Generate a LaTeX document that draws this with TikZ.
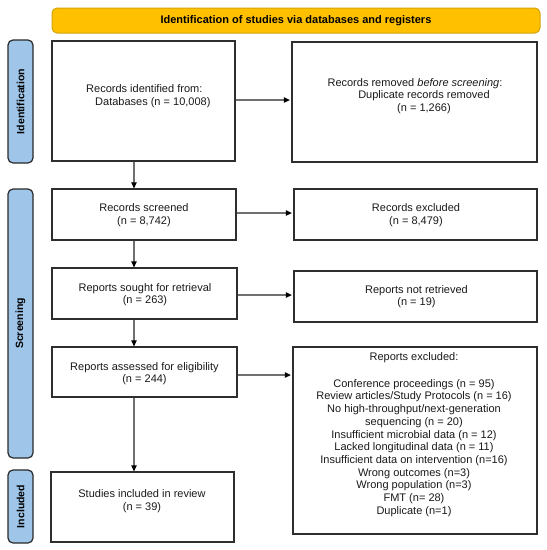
\documentclass[tikz,border=0pt]{standalone}
\usepackage{fontspec}
\setmainfont{Liberation Sans}
\usetikzlibrary{arrows.meta}
\definecolor{bannerfill}{HTML}{FFC000}
\definecolor{bannerdraw}{HTML}{D4A20A}
\definecolor{sidefill}{HTML}{9FC5E8}
\definecolor{sidedraw}{HTML}{2A2A2A}
\definecolor{boxdraw}{HTML}{2E2E2E}
\definecolor{arrowgray}{HTML}{707070}
\tikzset{
  box/.style={draw=boxdraw, line width=1.3pt, rectangle, inner sep=0pt},
  txt/.style={font=\fontsize{11}{12.7}\selectfont, align=center, inner sep=0pt, text=black!90},
  banner/.style={draw=bannerdraw, fill=bannerfill, line width=1pt, rounded corners=5pt, inner sep=0pt,
     font=\bfseries\fontsize{11}{13}\selectfont},
  side/.style={draw=sidedraw, fill=sidefill, line width=1.2pt, rounded corners=5pt, inner sep=0pt,
     rotate=90, font=\bfseries\fontsize{10.5}{12}\selectfont},
  flow/.style={draw=arrowgray, line width=1.2pt, -{Triangle[length=6pt,width=5.5pt,black]}},
}
\begin{document}
\begin{tikzpicture}[x=1pt,y=-1pt]
\useasboundingbox (0,0) rectangle (547,550);
% banner
\node[banner, minimum width=488pt, minimum height=25pt] (ban) at (296,20.5) {Identification of studies via databases and registers};
% side labels
\node[side, minimum width=123pt, minimum height=25pt] (L1) at (20.5,101.5) {Identification};
\node[side, minimum width=269pt, minimum height=25pt] (L2) at (20.5,323.5) {Screening};
\node[side, minimum width=73pt, minimum height=25pt] (L3) at (20.5,506.5) {Included};
% boxes
\node[box, minimum width=183pt, minimum height=120pt] (b1) at (143.5,101) {};
\node[box, minimum width=245pt, minimum height=120pt] (b2) at (414.5,102) {};
\node[box, minimum width=184pt, minimum height=51pt] (b3) at (144,214.5) {};
\node[box, minimum width=243pt, minimum height=51pt] (b4) at (415.5,214.5) {};
\node[box, minimum width=185pt, minimum height=51pt] (b5) at (144.5,293.5) {};
\node[box, minimum width=243pt, minimum height=51pt] (b6) at (415.5,296.5) {};
\node[box, minimum width=185pt, minimum height=50pt] (b7) at (144.5,372) {};
\node[box, minimum width=244pt, minimum height=187pt] (b8) at (415,440.5) {};
\node[box, minimum width=183pt, minimum height=70pt] (b9) at (142.5,507) {};
% texts
\node[txt, anchor=west, align=left] (t1) at (86,96) {Records identified from:\\\hspace*{9pt}Databases (n = 10,008)};
\node[txt] (t2) at (415,96) {Records removed \textit{before screening}:\\\hspace*{18pt}Duplicate records removed\\\hspace*{18pt}(n = 1,266)};
\node[txt] (t3) at (144,215) {Records screened\\(n = 8,742)};
\node[txt] (t4) at (416,215) {Records excluded\\(n = 8,479)};
\node[txt] (t5) at (145,294.5) {Reports sought for retrieval\\(n = 263)};
\node[txt] (t6) at (416.5,296.5) {Reports not retrieved\\(n = 19)};
\node[txt] (t7) at (144.5,373.5) {Reports assessed for eligibility\\(n = 244)};
\node[txt] (t8) at (414,434.5) {Reports excluded:\\[14pt]Conference proceedings (n = 95)\\Review articles/Study Protocols (n = 16)\\No high-throughput/next-generation\\sequencing (n = 20)\\Insufficient microbial data (n = 12)\\Lacked longitudinal data (n = 11)\\Insufficient data on intervention (n=16)\\Wrong outcomes (n=3)\\Wrong population (n=3)\\FMT (n= 28)\\Duplicate (n=1)};
\node[txt] (t9) at (142,501) {Studies included in review\\(n = 39)};
% vertical arrow axis
\coordinate (ax) at (134,0);
\draw[flow] (b1.south -| ax) -- (b3.north -| ax);
\draw[flow] (b3.south -| ax) -- (b5.north -| ax);
\draw[flow] (b5.south -| ax) -- (b7.north -| ax);
\draw[flow] (b7.south -| ax) -- (b9.north -| ax);
% horizontal arrows
\coordinate (h1) at (0,100);
\coordinate (h2) at (0,213);
\coordinate (h3) at (0,295);
\coordinate (h4) at (0,375);
\draw[flow, shorten >=1.5pt] (h1 -| b1.east) -- (h1 -| b2.west);
\draw[flow, shorten >=1.5pt] (h2 -| b3.east) -- (h2 -| b4.west);
\draw[flow, shorten >=1.5pt] (h3 -| b5.east) -- (h3 -| b6.west);
\draw[flow, shorten >=1.5pt] (h4 -| b7.east) -- (h4 -| b8.west);
\end{tikzpicture}
\end{document}
